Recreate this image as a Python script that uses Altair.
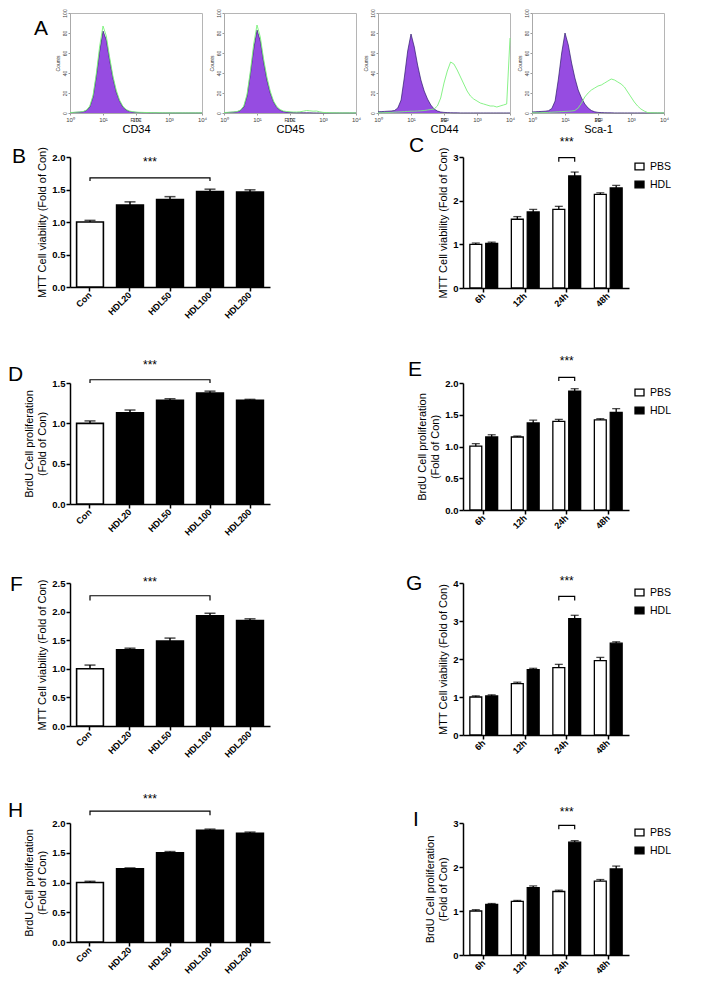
import altair as alt
import pandas as pd

FONT = "Liberation Sans"
PURPLE = "#6a00d4"
PURPLE_EDGE = "#2c1b6b"
GREEN = "#7af07a"

# ---------------- Panel A: flow cytometry histograms ----------------
LOG_POS = [0.0, 0.1, 0.2, 0.3, 0.4, 0.5, 0.6, 0.7, 0.8, 0.9,
           1.0, 1.1, 1.2, 1.3, 1.4, 1.5, 1.6, 1.7, 1.8, 1.9,
           2.0, 2.1, 2.2, 2.3, 2.4, 2.5, 2.6, 2.7, 2.8, 2.9,
           3.0, 3.1, 3.2, 3.3, 3.4, 3.5, 3.6, 3.7, 3.8, 3.9, 4.0]

CD34_ISO = [0.4, 0.5, 0.7, 0.9, 1.3, 2.5, 6, 16, 37, 62,
            82, 73, 53, 35, 21, 12, 6, 3, 1.6, 1,
            0.6, 0.4, 0.3, 0.3, 0.2, 0.2, 0.2, 0.1, 0.1, 0.1,
            0.1, 0.1, 0.1, 0.1, 0.1, 0.1, 0.1, 0.1, 0.1, 0.1, 0.1]
CD34_AB = [0.5, 0.6, 0.8, 1.0, 1.5, 3, 7, 18, 40, 67,
           87, 77, 56, 37, 23, 13, 7, 3.5, 2, 1.3,
           0.9, 0.7, 0.6, 0.5, 0.4, 0.4, 0.3, 0.3, 0.2, 0.2,
           0.1, 0.1, 0.1, 0.1, 0.1, 0.1, 0.1, 0.1, 0.1, 0.1, 0.1]
CD45_ISO = [0.4, 0.5, 0.7, 0.9, 1.3, 2.5, 6, 17, 39, 64,
            83, 72, 51, 33, 20, 11, 5.5, 2.8, 1.5, 0.9,
            0.6, 0.4, 0.3, 0.3, 0.2, 0.2, 0.2, 0.1, 0.1, 0.1,
            0.1, 0.1, 0.1, 0.1, 0.1, 0.1, 0.1, 0.1, 0.1, 0.1, 0.1]
CD45_AB = [0.5, 0.6, 0.8, 1.0, 1.5, 3, 7, 19, 42, 69,
           88, 76, 54, 36, 22, 12, 6.5, 3.5, 2, 1.5,
           1.2, 1.0, 1.0, 1.2, 1.8, 2.5, 2.2, 1.8, 2.0, 1.2,
           0.6, 0.4, 0.3, 0.2, 0.2, 0.1, 0.1, 0.1, 0.1, 0.1, 0.1]
CD44_ISO = [1.2, 1.4, 1.6, 1.8, 2.0, 2.5, 5, 13, 36, 62,
            79, 66, 48, 33, 22, 14, 8, 4, 2, 1,
            0.6, 0.4, 0.3, 0.2, 0.2, 0.1, 0.1, 0.1, 0.1, 0.1,
            0.1, 0.1, 0.1, 0.1, 0.1, 0.1, 0.1, 0.1, 0.1, 0.1, 0.1]
CD44_AB = [0.3, 0.3, 0.4, 0.5, 0.6, 0.8, 1.0, 1.2, 1.4, 1.6,
           1.8, 1.8, 2.0, 2.2, 2.5, 3, 3.5, 4, 7, 15,
           30, 42, 51, 49, 43, 36, 29, 22, 17, 14,
           12, 10, 9, 8, 7, 7, 6, 7, 8, 9, 75]
SCA1_ISO = [1.0, 1.2, 1.4, 1.6, 1.8, 2.3, 4.5, 12, 34, 60,
            80, 68, 50, 35, 23, 15, 9, 5, 2.5, 1.2,
            0.6, 0.4, 0.3, 0.2, 0.2, 0.1, 0.1, 0.1, 0.1, 0.1,
            0.1, 0.1, 0.1, 0.1, 0.1, 0.1, 0.1, 0.1, 0.1, 0.1, 0.1]
SCA1_AB = [0.3, 0.3, 0.3, 0.4, 0.5, 0.6, 0.8, 1.0, 1.2, 1.4,
           1.6, 1.8, 2.0, 2.5, 5, 10, 16, 20, 23, 25,
           27, 28, 30, 32, 34, 33, 31, 29, 26, 21,
           16, 11, 7, 4, 2, 0.5, 0.3, 0.2, 0.1, 0.1, 0.1]

# ---------------- Dose panels (B, D, F, H) ----------------
DOSES = ["Con", "HDL20", "HDL50", "HDL100", "HDL200"]
B_MEAN = [1.00, 1.26, 1.345, 1.47, 1.46]
B_ERR = [0.025, 0.05, 0.045, 0.035, 0.035]
D_MEAN = [1.00, 1.13, 1.285, 1.374, 1.285]
D_ERR = [0.03, 0.035, 0.02, 0.025, 0.012]
F_MEAN = [1.00, 1.33, 1.487, 1.926, 1.844]
F_ERR = [0.065, 0.03, 0.05, 0.045, 0.03]
H_MEAN = [1.00, 1.23, 1.50, 1.877, 1.827]
H_ERR = [0.02, 0.015, 0.02, 0.02, 0.02]

# ---------------- Time panels (C, E, G, I) ----------------
TIMES = ["6h", "12h", "24h", "48h"]
SERIES = ["PBS", "HDL"]
C_PBS = [1.00, 1.575, 1.80, 2.145]
C_PBS_ERR = [0.03, 0.06, 0.07, 0.035]
C_HDL = [1.02, 1.74, 2.565, 2.29]
C_HDL_ERR = [0.03, 0.06, 0.09, 0.06]
E_PBS = [1.005, 1.15, 1.397, 1.418]
E_PBS_ERR = [0.04, 0.015, 0.03, 0.02]
E_HDL = [1.15, 1.37, 1.87, 1.536]
E_HDL_ERR = [0.035, 0.045, 0.04, 0.06]
G_PBS = [1.00, 1.35, 1.774, 1.957]
G_PBS_ERR = [0.03, 0.04, 0.085, 0.085]
G_HDL = [1.026, 1.72, 3.06, 2.417]
G_HDL_ERR = [0.03, 0.035, 0.09, 0.035]
I_PBS = [1.00, 1.22, 1.443, 1.68]
I_PBS_ERR = [0.03, 0.02, 0.03, 0.035]
I_HDL = [1.15, 1.53, 2.564, 1.956]
I_HDL_ERR = [0.02, 0.04, 0.035, 0.065]

MTT_TITLE = "MTT Cell viability (Fold of Con)"
BRDU_TITLE = ["BrdU Cell proliferation", "(Fold of Con)"]


def letter_title(text, dx, offset, gap):
    if gap:
        return alt.TitleParams(text=["", text], anchor="start", frame="group", orient="top",
                               dx=dx, offset=offset, fontSize=21, fontWeight="normal",
                               font=FONT, color="black", lineHeight=gap)
    return alt.TitleParams(text=text, anchor="start", frame="group", orient="top",
                           dx=dx, offset=offset, fontSize=21, fontWeight="normal",
                           font=FONT, color="black")


def hist(iso, ab, channel, label, width, letter=None):
    df = pd.DataFrame({"fl": [10 ** p for p in LOG_POS], "iso": iso, "ab": ab})
    xaxis = alt.Axis(values=[1, 10, 100, 1000, 10000],
                     labelExpr="'10' + ['\u2070','\u00b9','\u00b2','\u00b3','\u2074'][round(log(datum.value)/LN10)]",
                     title=label, titleFont=FONT, titleFontSize=11, titleFontWeight="normal",
                     titleColor="black", titlePadding=1, labelFont=FONT, labelFontSize=6,
                     labelColor="#444", labelPadding=1, tickSize=2, tickColor="#999",
                     domainColor="#aaa", domainWidth=1, grid=False, labelFlush=False)
    yaxis = alt.Axis(values=[0, 20, 40, 60, 80, 100], title="Counts", titleFont=FONT,
                     titleFontSize=5, titleFontWeight="normal", titleColor="#333",
                     titlePadding=2, labelFont=FONT, labelFontSize=5, labelColor="#444",
                     labelAngle=270, labelAlign="center", labelBaseline="bottom",
                     labelPadding=1, tickSize=2, tickColor="#999", domainColor="#aaa",
                     domainWidth=1, grid=False, labelFlush=False)
    xs = alt.Scale(type="log", domain=[1, 10000], nice=False)
    ys = alt.Scale(domain=[0, 100], nice=False)
    area = alt.Chart(df).mark_area(color=PURPLE, line={"color": PURPLE_EDGE, "strokeWidth": 0.7}).encode(
        x=alt.X("fl:Q", scale=xs, axis=xaxis),
        y=alt.Y("iso:Q", scale=ys, axis=yaxis))
    green = alt.Chart(df).mark_line(color=GREEN, strokeWidth=0.9).encode(
        x=alt.X("fl:Q", scale=xs, axis=xaxis),
        y=alt.Y("ab:Q", scale=ys, axis=yaxis))
    ch = pd.DataFrame({"fl": [100], "ty": [-7], "name": [channel]})
    chan = alt.Chart(ch).mark_text(font=FONT, fontSize=5, color="#333", baseline="middle").encode(
        x=alt.X("fl:Q", scale=xs, axis=xaxis),
        y=alt.Y("ty:Q", scale=ys, axis=yaxis), text="name:N")
    layers = [area, green, chan]
    if letter:
        lt = pd.DataFrame({"letter": [letter]})
        layers.append(alt.Chart(lt).mark_text(font=FONT, fontSize=21, align="left",
                                              baseline="alphabetic", color="black").encode(
            x=alt.value(-36), y=alt.value(22), text="letter:N"))
    return alt.layer(*layers).properties(
        width=width, height=100, view=alt.ViewBackground(stroke="#b5b5b5", strokeWidth=1))


AX = dict(domainColor="black", domainWidth=1.5, tickColor="black", tickWidth=1.5, tickSize=4,
          labelFont=FONT, labelFontWeight="bold", labelColor="black",
          titleFont=FONT, titleFontSize=11, titleFontWeight="normal", titleColor="black",
          grid=False)


def y_axis(title, ticks, fmt):
    return alt.Axis(title=title, values=ticks, format=fmt, labelPadding=1, titlePadding=4,
                    labelFontSize=9.5, **AX)


def x_axis():
    props = dict(AX)
    props.update(title=None, labelAngle=-45, labelAlign="right", labelBaseline="middle",
                 labelPadding=2, labelFontSize=9)
    return alt.Axis(**props)


def dose_panel(letter, means, errs, ymax, ticks, ytitle, height, bracket, star,
               dx, toff, gap):
    df = pd.DataFrame({"group": DOSES, "value": means, "err": errs})
    df["top"] = df["value"] + df["err"]
    xs = alt.Scale(domain=DOSES, paddingInner=0.33, paddingOuter=0.165)
    xa = x_axis()
    ys = alt.Scale(domain=[0, ymax], nice=False, zero=True)
    ya = y_axis(ytitle, ticks, ".1f")

    def X():
        return alt.X("group:N", scale=xs, axis=xa, sort=DOSES)

    def Y(f):
        return alt.Y(f, type="quantitative", scale=ys, axis=ya)

    base = alt.Chart(df)
    bars = base.mark_bar(stroke="black", strokeWidth=1.6).encode(
        x=X(), y=Y("value"),
        fill=alt.condition("datum.group == 'Con'", alt.value("white"), alt.value("black")))
    err = base.mark_rule(color="black", strokeWidth=1.5).encode(x=X(), y=Y("value"), y2="top")
    cap = base.mark_tick(color="black", thickness=1.5, size=11, orient="horizontal").encode(
        x=X(), y=Y("top"))
    br = pd.DataFrame({"group": ["Con", "Con", "HDL100", "HDL100"],
                       "y": [bracket[0], bracket[1], bracket[1], bracket[0]],
                       "k": [0, 1, 2, 3]})
    brk = alt.Chart(br).mark_line(color="black", strokeWidth=1.2).encode(
        x=X(), y=Y("y"), order="k:O")
    st = pd.DataFrame({"group": ["HDL20"], "y": [star]})
    stars = alt.Chart(st).mark_text(text="***", font=FONT, fontSize=12, dx=20, color="black",
                                    baseline="middle").encode(x=X(), y=Y("y"))
    return alt.layer(bars, err, cap, brk, stars).properties(
        width=200, height=height, title=letter_title(letter, dx, toff, gap))


def time_panel(letter, pbs, pbs_err, hdl, hdl_err, ymax, ticks, fmt, ytitle, height,
               bracket, star, dx, toff, gap):
    rows = []
    for i, t in enumerate(TIMES):
        rows.append({"time": t, "series": "PBS", "value": pbs[i], "err": pbs_err[i]})
        rows.append({"time": t, "series": "HDL", "value": hdl[i], "err": hdl_err[i]})
    df = pd.DataFrame(rows)
    df["top"] = df["value"] + df["err"]
    xs = alt.Scale(domain=TIMES, paddingInner=0.33, paddingOuter=0.165)
    xa = x_axis()
    os_ = alt.Scale(domain=SERIES, paddingInner=0.25, paddingOuter=0)
    ys = alt.Scale(domain=[0, ymax], nice=False, zero=True)
    ya = y_axis(ytitle, ticks, fmt)

    def X():
        return alt.X("time:N", scale=xs, axis=xa, sort=TIMES)

    def XO():
        return alt.XOffset("series:N", scale=os_, sort=SERIES)

    def Y(f):
        return alt.Y(f, type="quantitative", scale=ys, axis=ya)

    base = alt.Chart(df)
    bars = base.mark_bar(stroke="black", strokeWidth=1.3).encode(
        x=X(), xOffset=XO(), y=Y("value"),
        fill=alt.Fill("series:N", scale=alt.Scale(domain=SERIES, range=["white", "black"]),
                      legend=alt.Legend(title=None, orient="right", offset=1,
                                        symbolType="M-1,-0.75L1,-0.75L1,0.75L-1,0.75Z",
                                        symbolSize=81, symbolStrokeColor="black",
                                        symbolStrokeWidth=1.3, labelFont=FONT,
                                        labelFontSize=10.5, labelColor="black",
                                        rowPadding=5, padding=4, labelOffset=5)))
    err = base.mark_rule(color="black", strokeWidth=1.3).encode(
        x=X(), xOffset=XO(), y=Y("value"), y2="top")
    cap = base.mark_tick(color="black", thickness=1.3, size=8, orient="horizontal").encode(
        x=X(), xOffset=XO(), y=Y("top"))
    br = pd.DataFrame({"time": ["24h"] * 4, "series": ["PBS", "PBS", "HDL", "HDL"],
                       "y": [bracket[0], bracket[1], bracket[1], bracket[0]],
                       "k": [0, 1, 2, 3]})
    brk = alt.Chart(br).mark_line(color="black", strokeWidth=1.2).encode(
        x=X(), xOffset=XO(), y=Y("y"), order="k:O")
    st = pd.DataFrame({"time": ["24h"], "y": [star]})
    stars = alt.Chart(st).mark_text(text="***", font=FONT, fontSize=12, color="black",
                                    baseline="middle").encode(x=X(), y=Y("y"))
    return alt.layer(bars, err, cap, brk, stars).properties(
        width=166, height=height, title=letter_title(letter, dx, toff, gap))


# ---------- build panels ----------
h1 = hist(CD34_ISO, CD34_AB, "FITC", "CD34", 132, letter="A")
h2 = hist(CD45_ISO, CD45_AB, "FITC", "CD45", 132)
h3 = hist(CD44_ISO, CD44_AB, "PE", "CD44", 132)
h4 = hist(SCA1_ISO, SCA1_AB, "PE", "Sca-1", 132)

row_a = alt.hconcat(h1, h2, h3, h4, spacing=0)

pB = dose_panel("B", B_MEAN, B_ERR, 2.0, [0, 0.5, 1.0, 1.5, 2.0], MTT_TITLE, 130,
                (1.63, 1.68), 1.93, -58, -20, 0)
pD = dose_panel("D", D_MEAN, D_ERR, 1.5, [0, 0.5, 1.0, 1.5], BRDU_TITLE, 121,
                (1.50, 1.54), 1.72, -62, -26, 43)
pF = dose_panel("F", F_MEAN, F_ERR, 2.5, [0, 0.5, 1.0, 1.5, 2.0, 2.5], MTT_TITLE, 143,
                (2.195, 2.277), 2.51, -60, -19, 36)
pH = dose_panel("H", H_MEAN, H_ERR, 2.0, [0, 0.5, 1.0, 1.5, 2.0], BRDU_TITLE, 119,
                (2.13, 2.20), 2.41, -62, -28, 39)

pC = time_panel("C", C_PBS, C_PBS_ERR, C_HDL, C_HDL_ERR, 3, [0, 1, 2, 3], "d", MTT_TITLE,
                131, (2.89, 2.985), 3.34, -54, -20, 0)
pE = time_panel("E", E_PBS, E_PBS_ERR, E_HDL, E_HDL_ERR, 2.0, [0, 0.5, 1.0, 1.5, 2.0], ".1f",
                BRDU_TITLE, 127, (2.03, 2.09), 2.35, -55, -25, 36)
pG = time_panel("G", G_PBS, G_PBS_ERR, G_HDL, G_HDL_ERR, 4, [0, 1, 2, 3, 4], "d", MTT_TITLE,
                152, (3.54, 3.65), 4.04, -57, -19, 34)
pI = time_panel("I", I_PBS, I_PBS_ERR, I_HDL, I_HDL_ERR, 3, [0, 1, 2, 3], "d", BRDU_TITLE,
                132, (2.857, 2.945), 3.24, -50, -24, 46)

grid = alt.concat(pB, pC, pD, pE, pF, pG, pH, pI, columns=2, align="each",
                  spacing={"row": 0, "column": 136}).resolve_scale(
    fill="independent").resolve_legend(fill="independent")

chart = alt.vconcat(row_a, grid, spacing=0).resolve_scale(
    fill="independent").resolve_legend(fill="independent").properties(
    padding=0).configure_view(stroke=None)

chart.save("out.html", embed_options={"renderer": "svg", "actions": False})
